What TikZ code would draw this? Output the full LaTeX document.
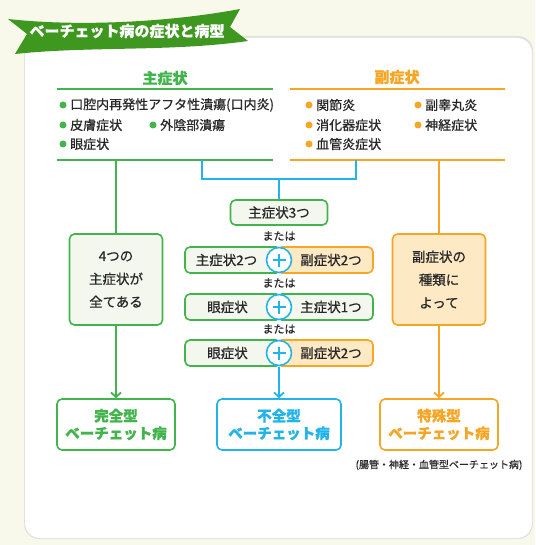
\documentclass[tikz,border=0pt]{standalone}
\usepackage{fontspec}
\setmainfont{Noto Sans CJK JP}[FakeBold=0.6]
\usetikzlibrary{arrows.meta}
\definecolor{bgc}{RGB}{248,249,234}
\definecolor{gc}{RGB}{66,180,76}
\definecolor{oc}{RGB}{246,166,36}
\definecolor{bc}{RGB}{34,180,232}
\definecolor{gfill}{RGB}{243,247,237}
\definecolor{ofill}{RGB}{253,233,196}
\definecolor{txtc}{RGB}{40,40,40}
\definecolor{banc}{RGB}{62,152,32}
\definecolor{shadc}{RGB}{225,226,220}
\begin{document}
\begin{tikzpicture}[x=1pt,y=-1pt,
  every node/.style={inner sep=0pt, text=txtc},
  head/.style={font=\fontsize{15}{18}\selectfont\bfseries},
  item/.style={anchor=west, font=\fontsize{13}{16}\selectfont},
  gdot/.style={circle, fill=gc, minimum size=7pt},
  odot/.style={circle, fill=oc, minimum size=7pt},
  gline/.style={draw=gc, line width=2pt},
  oline/.style={draw=oc, line width=2pt},
  bline/.style={draw=bc, line width=2pt},
  arr/.style={-{Straight Barb[length=4.5pt,width=10pt,line width=1.8pt]}},
  gbox/.style={draw=gc, fill=gfill, line width=1.6pt, rounded corners=5pt},
  obox/.style={draw=oc, fill=ofill, line width=1.6pt, rounded corners=5pt},
  btxt/.style={font=\fontsize{13.5}{23}\selectfont, align=center},
  rtxt/.style={font=\fontsize{13.5}{16}\selectfont},
  half/.style={minimum height=26pt},
  mata/.style={font=\fontsize{11}{13}\selectfont},
  pc/.style={circle, draw=bc, fill=white, line width=1.6pt, minimum size=25pt,
    path picture={\draw[bc,line width=1.5pt]
      ([xshift=-6.5pt]path picture bounding box.center) -- ([xshift=6.5pt]path picture bounding box.center)
      ([yshift=-6.5pt]path picture bounding box.center) -- ([yshift=6.5pt]path picture bounding box.center);}},
  fbox/.style={draw, fill=white, line width=1.6pt, rounded corners=5pt,
    minimum height=51pt, align=center, font=\fontsize{14.5}{17.5}\selectfont\bfseries}
]
\useasboundingbox (0,0) rectangle (535,545);
% background and panel
\fill[bgc] (0,0) rectangle (535,545);
\fill[shadc, rounded corners=15pt] (24,36) rectangle (533,539);
\fill[white, rounded corners=15pt] (25,38) rectangle (532,538);
% banner
\fill[banc] (8,19) .. controls (80,27) and (170,22) .. (240,9) -- (230,27) -- (248,41)
  .. controls (170,52) and (90,46) .. (15,54) -- (27,34) -- cycle;
\node[text=white, font=\fontsize{15}{17}\selectfont\bfseries] (title) at (127,31) {ベーチェット病の症状と病型};

% headings
\node[head, text=gc] (mainh) at (165,78) {主症状};
\node[head, text=oc] (subh) at (397,77) {副症状};
\coordinate (gta) at (57,89); \coordinate (gtb) at (273,89);
\coordinate (gba) at (57,160); \coordinate (gbb) at (273,160);
\coordinate (ota) at (290,89); \coordinate (otb) at (505,89);
\coordinate (oba) at (290,160); \coordinate (obb) at (505,160);
\draw[gline] (gta) -- (gtb);
\draw[gline] (gba) -- (gbb);
\draw[oline] (ota) -- (otb);
\draw[oline] (oba) -- (obb);

% main symptom items
\node[gdot] (gd1) at (63,105) {};
\node[item] (gi1) at (70,105) {口腔内再発性アフタ性潰瘍(口内炎)};
\node[gdot] (gd2) at (63,125) {};
\node[item] (gi2) at (70,125) {皮膚症状};
\node[gdot] (gd3) at (153,125) {};
\node[item] (gi3) at (160,125) {外陰部潰瘍};
\node[gdot] (gd4) at (63,144) {};
\node[item] (gi4) at (70,144) {眼症状};

% sub symptom items
\node[odot] (od1) at (309,105) {};
\node[item] (oi1) at (316,105) {関節炎};
\node[odot] (od2) at (309,125) {};
\node[item] (oi2) at (316,125) {消化器症状};
\node[odot] (od3) at (309,144) {};
\node[item] (oi3) at (316,144) {血管炎症状};
\node[odot] (od4) at (418,105) {};
\node[item] (oi4) at (425,105) {副睾丸炎};
\node[odot] (od5) at (418,125) {};
\node[item] (oi5) at (425,125) {神経症状};

% left column
\node[gbox, btxt, minimum width=93pt, minimum height=91pt] (box4) at (116,279.5) {4つの\\主症状が\\全てある};
% right column
\node[obox, btxt, minimum width=93pt, minimum height=91pt] (boxo) at (439,279.5) {副症状の\\種類に\\よって};

% center column
\node[gbox, rtxt, minimum width=97pt, minimum height=25pt] (s3) at (279,212.5) {主症状3つ};
\node[mata] (m1) at (279,236) {または};
\node[gbox, half, minimum width=96pt] (r2l) at (233,260) {};
\node[obox, half, minimum width=96pt] (r2r) at (325,260) {};
\node[rtxt] (r2lt) at (226.5,260) {主症状2つ};
\node[rtxt] (r2rt) at (331,260) {副症状2つ};
\node[pc] (p2) at (279,260) {};
\node[mata] (m2) at (279,283) {または};
\node[gbox, half, minimum width=96pt] (r3l) at (233,307) {};
\node[gbox, half, minimum width=96pt] (r3r) at (325,307) {};
\node[rtxt] (r3lt) at (227.5,307) {眼症状};
\node[rtxt] (r3rt) at (331,307) {主症状1つ};
\node[pc] (p3) at (279,307) {};
\node[mata] (m3) at (279,329) {または};
\node[gbox, half, minimum width=96pt] (r4l) at (233,353) {};
\node[obox, half, minimum width=96pt] (r4r) at (325,353) {};
\node[rtxt] (r4lt) at (227.5,353) {眼症状};
\node[rtxt] (r4rt) at (331,353) {副症状2つ};
\node[pc] (p4) at (279,353) {};

% result boxes
\node[fbox, draw=gc, text=gc, minimum width=118pt] (kan) at (116,424.5) {完全型\\ベーチェット病};
\node[fbox, draw=bc, text=bc, minimum width=124pt] (fu) at (279,424.5) {不全型\\ベーチェット病};
\node[fbox, draw=oc, text=oc, minimum width=118pt] (toku) at (439,424.5) {特殊型\\ベーチェット病};
\node[font=\fontsize{10}{12}\selectfont] (cap) at (439,465) {(腸管・神経・血管型ベーチェット病)};

% connectors
\draw[gline] (box4.north |- gba) -- (box4.north);
\draw[gline, arr] (box4.south) -- (kan.north);
\draw[oline] (boxo.north |- oba) -- (boxo.north);
\draw[oline, arr] (boxo.south) -- (toku.north);
\coordinate (bj1) at (202,160); \coordinate (bj2) at (356,160);
\coordinate (bk1) at (202,179); \coordinate (bk2) at (356,179);
\draw[bline] (bj1) -- (bk1) -- (bk2) -- (bj2);
\draw[bline] (s3.north |- bk1) -- (s3.north);
\draw[bline, arr] (p4.south |- r4l.south) -- (fu.north);
\end{tikzpicture}
\end{document}
